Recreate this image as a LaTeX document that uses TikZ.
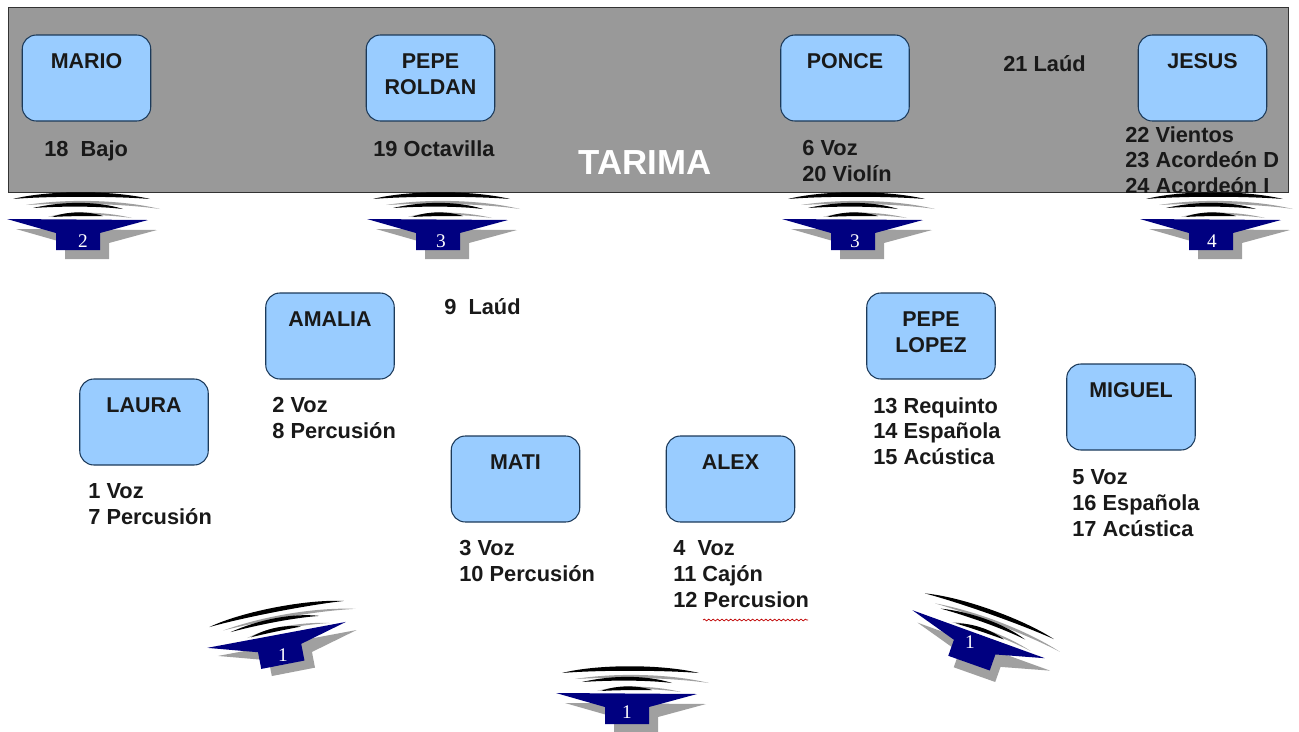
\documentclass[tikz,border=0pt]{standalone}
\usepackage{fontspec}
\setmainfont{Liberation Sans}
\newfontfamily\numfont{Liberation Serif}
\usetikzlibrary{positioning,decorations.pathmorphing}
\definecolor{tarimacol}{RGB}{153,153,153}
\definecolor{boxcol}{RGB}{153,204,255}
\definecolor{boxline}{RGB}{28,58,90}
\definecolor{spkcol}{RGB}{0,0,128}
\definecolor{shadowcol}{RGB}{160,160,160}
\tikzset{
  perbox/.style={draw=boxline,fill=boxcol,line width=0.6pt,rounded corners=8pt,minimum width=2.57cm,minimum height=1.72cm,inner sep=0pt},
  pername/.style={font=\fontsize{12.2}{14.7}\selectfont\bfseries,align=center,inner sep=0pt,text=black!90},
  parts/.style={font=\fontsize{12.4}{14.7}\selectfont\bfseries,align=left,anchor=north west,inner sep=0pt,text=black!90},
  spknum/.style={font=\fontsize{11}{12}\selectfont\numfont,text=white,inner sep=0pt},
  speaker/.pic={
    % sombra de las ondas
    \fill[shadowcol] (-52,-30) .. controls (-15,-36) and (40,-36) .. (82,-26) .. controls (40,-32) and (-15,-32) .. cycle;
    \fill[shadowcol] (-30,-18) .. controls (-10,-24) and (25,-24) .. (54,-17) .. controls (25,-21) and (-10,-21) .. cycle;
    % ondas
    \fill[black] (-65,-36) .. controls (-30,-45) and (35,-45) .. (72,-36) .. controls (35,-39) and (-30,-39) .. cycle;
    \fill[black] (-45,-27) .. controls (-15,-34) and (20,-34) .. (45,-26) .. controls (20,-29) and (-15,-29) .. cycle;
    \fill[black] (-26,-18) .. controls (-10,-24) and (10,-24) .. (25,-19) .. controls (10,-19) and (-10,-19) .. cycle;
    % cuerpo
    \fill[shadowcol] (-62,-6)--(79,-5)--(31,8)--(31,24)--(-13,24)--(-13,8)--cycle;
    \fill[spkcol] (-71,-16)--(70,-15)--(22,-2)--(22,15)--(-22,15)--(-22,-2)--cycle;
  }
}
\begin{document}
\begin{tikzpicture}[x=0.02cm,y=-0.02cm]
\useasboundingbox (0,0) rectangle (1299,731);
\fill[white] (0,0) rectangle (1299,731);
\node[draw=black!80,fill=tarimacol,line width=0.6pt,minimum width=25.6cm,minimum height=3.7cm,inner sep=0pt,anchor=north west] (tarima) at (8,7) {};
% altavoces
\pic at (78,235) {speaker};\node[spknum] (n1) at (83,241) {2};
\pic at (438,235) {speaker};\node[spknum] (n2) at (441,241) {3};
\pic at (853,235) {speaker};\node[spknum] (n3) at (855,241) {3};
\pic at (1211,235) {speaker};\node[spknum] (n4) at (1212,241) {4};
\pic[rotate=11] at (280,650) {speaker};\node[spknum] (n5) at (283,655) {1};
\pic at (627,709) {speaker};\node[spknum] (n6) at (627,712) {1};
\pic[rotate=-19.5] at (974,649) {speaker};\node[spknum] (n7) at (970,642) {1};
% musicos
\node[perbox] (mario) at (86.5,78) {};\node[pername,below=0.38cm of mario.north] (mario-n) {MARIO};
\node[perbox] (roldan) at (430.5,78) {};\node[pername,below=0.38cm of roldan.north] (roldan-n) {PEPE\\ROLDAN};
\node[perbox] (ponce) at (845,78) {};\node[pername,below=0.38cm of ponce.north] (ponce-n) {PONCE};
\node[perbox] (jesus) at (1202.5,78) {};\node[pername,below=0.38cm of jesus.north] (jesus-n) {JESUS};
\node[perbox] (amalia) at (330,336) {};\node[pername,below=0.38cm of amalia.north] (amalia-n) {AMALIA};
\node[perbox] (laura) at (144,422) {};\node[pername,below=0.38cm of laura.north] (laura-n) {LAURA};
\node[perbox] (mati) at (515.5,479) {};\node[pername,below=0.38cm of mati.north] (mati-n) {MATI};
\node[perbox] (alex) at (730.5,479) {};\node[pername,below=0.38cm of alex.north] (alex-n) {ALEX};
\node[perbox] (lopez) at (931,336) {};\node[pername,below=0.38cm of lopez.north] (lopez-n) {PEPE\\LOPEZ};
\node[perbox] (miguel) at (1131,407) {};\node[pername,below=0.38cm of miguel.north] (miguel-n) {MIGUEL};
% instrumentos
\node[parts] (t18) at (44,140) {18\ \ Bajo};
\node[parts] (t19) at (373,140) {19 Octavilla};
\node[parts] (t6) at (802,140) {6 Voz\\20 Violín};
\node[parts] (t21) at (1003,55) {21 Laúd};
\node[parts] (t22) at (1125,126) {22 Vientos\\23 Acordeón D\\24 Acordeón I};
\node[parts] (t9) at (444,298) {9\ \ Laúd};
\node[parts] (t2) at (272,397) {2 Voz\\8 Percusión};
\node[parts] (t1) at (88,483) {1 Voz\\7 Percusión};
\node[parts] (t3) at (459,540) {3 Voz\\10 Percusión};
\node[parts] (t4) at (673,540) {4\ \ Voz\\11 Cajón\\12 Percusion};
\node[parts] (t13) at (873,397) {13 Requinto\\14 Española\\15 Acústica};
\node[parts] (t5) at (1072,469) {5 Voz\\16 Española\\17 Acústica};
\node[font=\fontsize{19.8}{22}\selectfont\bfseries,text=white,inner sep=0pt] (tarima-t) at (645,163) {TARIMA};
\draw[red!75!black,line width=0.4pt,decorate,decoration={snake,amplitude=0.5pt,segment length=2.5pt}] (703,620) -- (808,620);
\end{tikzpicture}
\end{document}
